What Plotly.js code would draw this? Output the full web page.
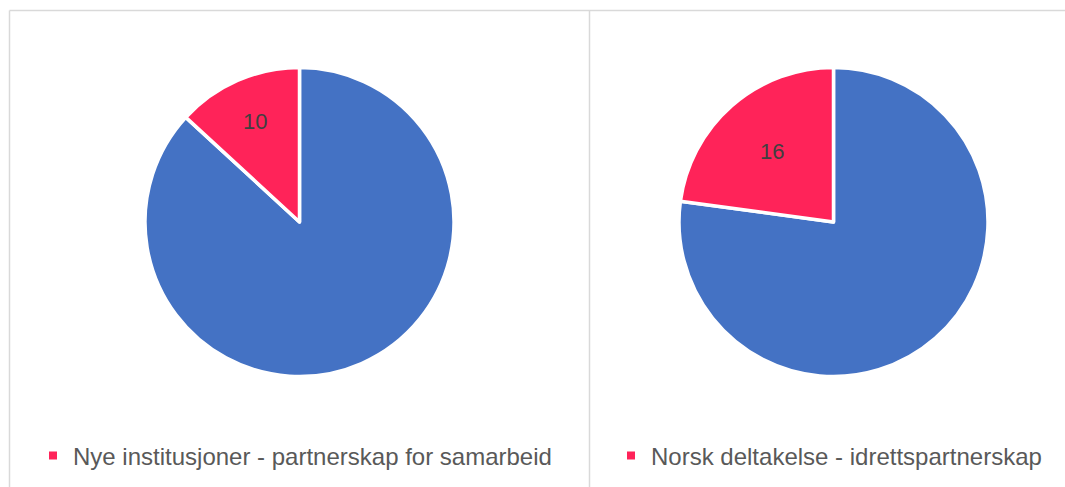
<!DOCTYPE html>
<html>
<head>
<meta charset="utf-8">
<script src="https://cdn.plot.ly/plotly-3.0.1.min.js"></script>
<style>html,body{margin:0;padding:0;background:#fff;}#chart{width:1065px;height:487px;}</style>
</head>
<body>
<div id="chart"></div>
<script>
// Data (remaining share first, highlighted category second)
const leftLabels = ["Øvrige", "Nye institusjoner - partnerskap for samarbeid"];
const leftValues = [66, 10];
const leftText = ["", "10"];
const rightLabels = ["Øvrige", "Norsk deltakelse - idrettspartnerskap"];
const rightValues = [54, 16];
const rightText = ["", "16"];
const sliceColors = ["#4472C4", "#FF2359"];

const W = 1065, H = 487;
function dom(cx, cy, r) {
  return {x: [(cx - r) / W, (cx + r) / W], y: [1 - (cy + r) / H, 1 - (cy - r) / H]};
}

const pieCommon = {
  type: 'pie', sort: false, direction: 'clockwise', rotation: 0,
  textinfo: 'text', textposition: 'inside', insidetextorientation: 'horizontal',
  insidetextfont: {family: 'Liberation Sans, Arial, sans-serif', size: 22, color: '#404040'},
  marker: {colors: sliceColors, line: {color: '#ffffff', width: 3.5}},
  showlegend: false, hoverinfo: 'skip'
};

const traces = [
  Object.assign({}, pieCommon, {labels: leftLabels, values: leftValues, text: leftText, domain: dom(299.5, 222, 154.5)}),
  Object.assign({}, pieCommon, {labels: rightLabels, values: rightValues, text: rightText, domain: dom(833.5, 222, 154.5)}),
  {type: 'scatter', mode: 'markers', x: [null], y: [null], name: leftLabels[1],
   marker: {symbol: 'square', size: 8, color: sliceColors[1]}, legend: 'legend', showlegend: true, hoverinfo: 'skip'},
  {type: 'scatter', mode: 'markers', x: [null], y: [null], name: rightLabels[1],
   marker: {symbol: 'square', size: 8, color: sliceColors[1]}, legend: 'legend2', showlegend: true, hoverinfo: 'skip'}
];

const legFont = {family: 'Liberation Sans, Arial, sans-serif', size: 24, color: '#595959'};
const lineStyle = {color: '#d9d9d9', width: 1.5};
const layout = {
  width: W, height: H,
  margin: {l: 0, r: 0, t: 0, b: 0},
  paper_bgcolor: '#ffffff', plot_bgcolor: '#ffffff',
  hovermode: false,
  xaxis: {visible: false}, yaxis: {visible: false},
  legend: {x: 33 / W, xanchor: 'left', y: 1 - 456 / H, yanchor: 'middle', font: legFont, bgcolor: 'rgba(0,0,0,0)', itemclick: false, itemdoubleclick: false},
  legend2: {x: 611 / W, xanchor: 'left', y: 1 - 456 / H, yanchor: 'middle', font: legFont, bgcolor: 'rgba(0,0,0,0)', itemclick: false, itemdoubleclick: false},
  shapes: [
    {type: 'line', xref: 'paper', yref: 'paper', x0: 9.5 / W, x1: 1, y0: 1 - 10.5 / H, y1: 1 - 10.5 / H, line: lineStyle},
    {type: 'line', xref: 'paper', yref: 'paper', x0: 9.5 / W, x1: 9.5 / W, y0: 0, y1: 1 - 10.5 / H, line: lineStyle},
    {type: 'line', xref: 'paper', yref: 'paper', x0: 589.5 / W, x1: 589.5 / W, y0: 0, y1: 1 - 10.5 / H, line: lineStyle}
  ]
};

Plotly.newPlot('chart', traces, layout, {staticPlot: true, displayModeBar: false});
</script>
</body>
</html>
